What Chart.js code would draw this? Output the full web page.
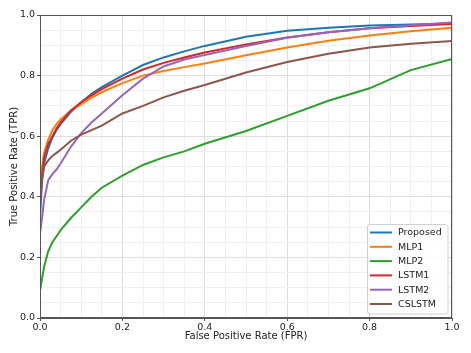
<!DOCTYPE html>
<html>
<head>
<meta charset="utf-8">
<script src="https://cdn.jsdelivr.net/npm/chart.js@4.4.1/dist/chart.umd.min.js"></script>
<style>
  html, body { margin: 0; padding: 0; background: #fff; }
  #wrap { width: 471px; height: 353px; }
</style>
</head>
<body>
<div id="wrap"><canvas id="myChart" width="471" height="353"></canvas></div>
<script>
// ROC curves
let fpr = [0, 0, 0.005, 0.01, 0.02, 0.03, 0.04, 0.05, 0.075, 0.1, 0.125, 0.15, 0.2, 0.25, 0.3, 0.35, 0.4, 0.5, 0.6, 0.7, 0.8, 0.9, 1.0];

let proposed = [0, 0.33, 0.45, 0.51, 0.56, 0.595, 0.62, 0.64, 0.68, 0.712, 0.74, 0.762, 0.80, 0.835, 0.86, 0.88, 0.898, 0.928, 0.948, 0.958, 0.965, 0.969, 0.972];
let mlp1 = [0, 0.40, 0.50, 0.545, 0.59, 0.62, 0.64, 0.655, 0.685, 0.705, 0.727, 0.745, 0.775, 0.80, 0.815, 0.828, 0.84, 0.867, 0.893, 0.915, 0.932, 0.946, 0.958];
let mlp2 = [0, 0.09, 0.13, 0.17, 0.22, 0.25, 0.27, 0.29, 0.33, 0.365, 0.40, 0.43, 0.47, 0.505, 0.53, 0.55, 0.575, 0.617, 0.667, 0.717, 0.758, 0.818, 0.855];
let lstm1 = [0, 0.38, 0.47, 0.53, 0.575, 0.60, 0.625, 0.645, 0.685, 0.712, 0.735, 0.755, 0.79, 0.82, 0.842, 0.86, 0.876, 0.903, 0.926, 0.943, 0.956, 0.964, 0.970];
let lstm2 = [0, 0.28, 0.33, 0.39, 0.455, 0.475, 0.49, 0.51, 0.565, 0.61, 0.645, 0.675, 0.735, 0.79, 0.83, 0.853, 0.868, 0.898, 0.925, 0.943, 0.956, 0.966, 0.975];
let cslstm = [0, 0.40, 0.46, 0.50, 0.52, 0.535, 0.545, 0.555, 0.585, 0.605, 0.62, 0.635, 0.675, 0.70, 0.728, 0.75, 0.769, 0.81, 0.845, 0.872, 0.893, 0.905, 0.914];

let labels = ['Proposed', 'MLP1', 'MLP2', 'LSTM1', 'LSTM2', 'CSLSTM'];
let series = [proposed, mlp1, mlp2, lstm1, lstm2, cslstm];
let colors = ['#1f77b4', '#ff7f0e', '#2ca02c', '#d62728', '#9467bd', '#8c564b'];

let tickLabels = ['0.0', '0.2', '0.4', '0.6', '0.8', '1.0'];

function toPoints(ys) {
  let pts = [];
  for (let i = 0; i < ys.length; i++) {
    pts.push({x: fpr[i], y: ys[i]});
  }
  return pts;
}

let datasets = [];
for (let i = 0; i < series.length; i++) {
  datasets.push({
    label: labels[i],
    data: toPoints(series[i]),
    borderColor: colors[i],
    backgroundColor: colors[i],
    borderWidth: 2,
    pointRadius: 0,
    tension: 0,
    showLine: true,
    order: series.length - i   // later series drawn on top, like matplotlib
  });
}

function isMajor(v) {
  return Math.abs(v * 5 - Math.round(v * 5)) < 1e-6;
}
function majorLabel(v) {
  return isMajor(v) ? tickLabels[Math.round(v * 5)] : '';
}

const font = {family: 'DejaVu Sans', size: 9.5};
const titleFont = {family: 'DejaVu Sans', size: 10};

// frame around the plot + legend box in the lower right
const frameAndLegend = {
  id: 'frameAndLegend',
  afterDatasetsDraw(chart) {
    const ctx = chart.ctx;
    const a = chart.chartArea;
    ctx.save();
    ctx.strokeStyle = '#555';
    ctx.lineWidth = 1;
    ctx.strokeRect(a.left + 0.5, a.top + 0.5, a.right - a.left - 1, a.bottom - a.top - 1);

    // legend box
    let bx = a.right - 85, by = a.bottom - 94, bw = 80.5, bh = 89.5;
    ctx.beginPath();
    ctx.roundRect(bx + 0.5, by + 0.5, bw, bh, 2.5);
    ctx.fillStyle = 'rgba(255,255,255,0.85)';
    ctx.fill();
    ctx.strokeStyle = '#d0d0d0';
    ctx.stroke();

    ctx.font = '9.5px "DejaVu Sans"';
    ctx.textBaseline = 'middle';
    ctx.fillStyle = '#222';
    chart.data.datasets.forEach(function(ds, i) {
      let yy = by + 8.5 + i * 14.3;
      ctx.strokeStyle = ds.borderColor;
      ctx.lineWidth = 2;
      ctx.beginPath();
      ctx.moveTo(bx + 3, yy);
      ctx.lineTo(bx + 25, yy);
      ctx.stroke();
      ctx.fillText(ds.label, bx + 31, yy + 0.5);
    });
    ctx.restore();
  }
};

var myChart = document.getElementById('myChart').getContext('2d');

var rocChart = new Chart(myChart, {
  type: 'scatter',
  data: {datasets: datasets},
  options: {
    responsive: false,
    animation: false,
    layout: {padding: {top: 15, right: 19, left: 0, bottom: 0}},
    plugins: {
      legend: {display: false},
      tooltip: {enabled: false}
    },
    scales: {
      x: {
        type: 'linear',
        min: 0, max: 1,
        afterFit: function(scale) { scale.height = 35; },
        ticks: {
          stepSize: 0.05,
          autoSkip: false,
          maxRotation: 0,
          padding: 1,
          color: '#222',
          font: font,
          callback: majorLabel
        },
        grid: {
          color: function(c) { return isMajor(c.tick.value) ? '#dedede' : '#f0f0f0'; },
          tickColor: function(c) { return isMajor(c.tick.value) ? '#555' : 'rgba(0,0,0,0)'; },
          tickLength: 3,
          drawTicks: true
        },
        border: {display: true, color: '#555'},
        title: {
          display: true,
          text: 'False Positive Rate (FPR)',
          color: '#222',
          font: titleFont,
          padding: {top: 0, bottom: 11}
        }
      },
      y: {
        type: 'linear',
        min: 0, max: 1,
        afterFit: function(scale) { scale.width = 40; },
        ticks: {
          stepSize: 0.05,
          autoSkip: false,
          padding: 2,
          color: '#222',
          font: font,
          callback: majorLabel
        },
        grid: {
          color: function(c) { return isMajor(c.tick.value) ? '#dedede' : '#f0f0f0'; },
          tickColor: function(c) { return isMajor(c.tick.value) ? '#555' : 'rgba(0,0,0,0)'; },
          tickLength: 3,
          drawTicks: true
        },
        border: {display: true, color: '#555'},
        title: {
          display: true,
          text: 'True Positive Rate (TPR)',
          color: '#222',
          font: titleFont,
          padding: {top: 8.5, bottom: 0}
        }
      }
    }
  },
  plugins: [frameAndLegend]
});
</script>
</body>
</html>
